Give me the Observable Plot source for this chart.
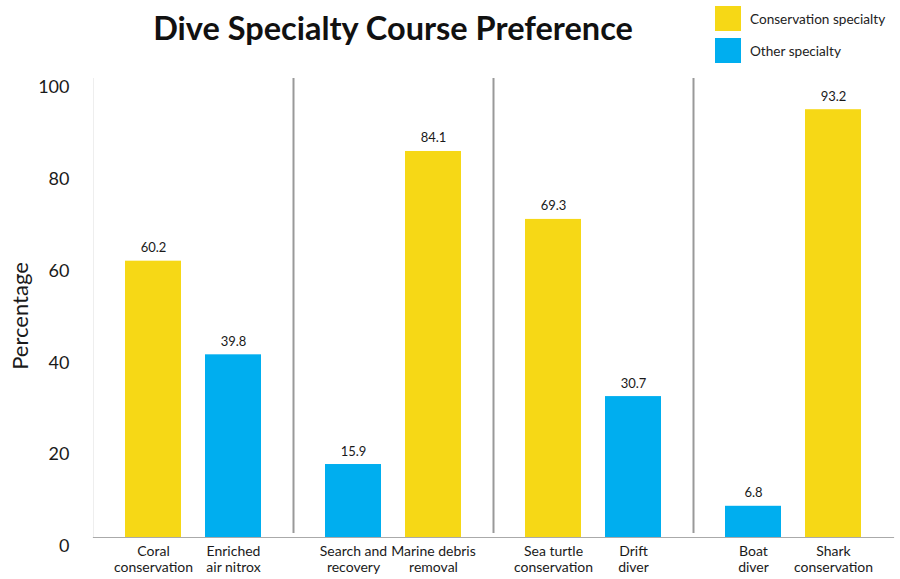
<!DOCTYPE html>
<html><head><meta charset="utf-8">
<script src="https://cdn.jsdelivr.net/npm/d3@7"></script>
<script src="https://cdn.jsdelivr.net/npm/@observablehq/plot@0.6"></script>
<style>
body{margin:0;background:#fff;font-family:Lato,"Open Sans",sans-serif;color:#1a1a1a;}
#wrap{position:relative;width:900px;height:579px;overflow:hidden;}
#chart{position:absolute;left:0;top:0;}
#title{position:absolute;left:0;width:786px;top:8px;text-align:center;font-weight:700;font-size:32.5px;line-height:40px;color:#111;}
#ylabel{position:absolute;left:20px;top:316px;transform:translate(-50%,-50%) rotate(-90deg);font-size:22px;line-height:24px;white-space:nowrap;color:#1a1a1a;}
#legend{position:absolute;left:715px;top:6px;font-size:13.6px;color:#222;}
.item{display:flex;align-items:center;height:25px;margin-bottom:7px;}
.sw{width:26px;height:25px;margin-right:9px;}
</style></head>
<body><div id="wrap"><div id="chart"></div><div id="title"></div><div id="ylabel"></div><div id="legend"></div></div>
<script>
const title = "Dive Specialty Course Preference";
const yLabel = "Percentage";
const groups = ["g1","g1","g2","g2","g3","g3","g4","g4"];
const categories = ["Coral\nconservation","Enriched\nair nitrox","Search and\nrecovery","Marine debris\nremoval","Sea turtle\nconservation","Drift\ndiver","Boat\ndiver","Shark\nconservation"];
const types = ["Conservation specialty","Other specialty","Other specialty","Conservation specialty","Conservation specialty","Other specialty","Other specialty","Conservation specialty"];
const values = [60.2, 39.8, 15.9, 84.1, 69.3, 30.7, 6.8, 93.2];
const yTicks = [0, 20, 40, 60, 80, 100];
const seriesNames = ["Conservation specialty", "Other specialty"];
const seriesColors = ["#F6D816", "#00AEEF"];

const data = values.map((v, i) => ({
  group: groups[i], slot: i % 2, category: categories[i], type: types[i], value: v
}));
const separators = data.filter((d, i) => d.slot === 0 && i > 0);

const chart = Plot.plot({
  width: 900, height: 579,
  marginTop: 78, marginBottom: 42, marginLeft: 81, marginRight: 6,
  style: {fontFamily: "Lato, 'Open Sans', sans-serif", color: "#1a1a1a", background: "#fff"},
  fx: {axis: null, domain: ["g1","g2","g3","g4"], range: [91, 894], paddingInner: 0, paddingOuter: 0},
  x: {axis: null, domain: [0, 1], paddingInner: 0.3, paddingOuter: 0.39},
  y: {domain: [0, 100], axis: null},
  color: {domain: seriesNames, range: seriesColors},
  marks: [
    Plot.frame({facet: "super", anchor: "left", stroke: "#eeeeee"}),
    Plot.frame({facet: "super", anchor: "bottom", stroke: "#aaaaaa", strokeWidth: 1.2}),
    Plot.ruleX(separators, {fx: "group", x: "slot", y1: 0, y2: 100, dx: -60, insetTop: -4, stroke: "#999", strokeWidth: 2}),
    Plot.barY(data, {fx: "group", x: "slot", y: "value", fill: "type"}),
    Plot.text(data, {fx: "group", x: "slot", y: "value", text: d => d.value.toFixed(1), dy: -9, lineAnchor: "bottom", fontSize: 13, fill: "#1a1a1a"}),
    Plot.text(data, {fx: "group", x: "slot", y: 0, text: "category", dy: 7, lineAnchor: "top", fontSize: 14, lineHeight: 1.16, fill: "#1a1a1a"}),
    Plot.axisY({ticks: yTicks, tickSize: 0, tickPadding: 24, dy: 9, fontSize: 18, label: null, fill: "#1a1a1a"})
  ]
});
document.getElementById("chart").appendChild(chart);
document.getElementById("title").textContent = title;
document.getElementById("ylabel").textContent = yLabel;
const legend = document.getElementById("legend");
seriesNames.forEach((n, i) => {
  const it = document.createElement("div"); it.className = "item";
  const sw = document.createElement("div"); sw.className = "sw"; sw.style.background = seriesColors[i];
  const tx = document.createElement("span"); tx.textContent = n;
  it.appendChild(sw); it.appendChild(tx); legend.appendChild(it);
});
</script></body></html>
